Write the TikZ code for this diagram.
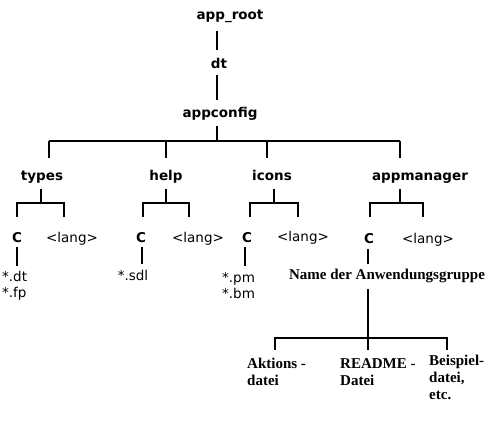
\documentclass[tikz,border=0pt]{standalone}
\usepackage{fontspec}
\setsansfont{DejaVu Sans}
\newfontfamily\dtserif{Liberation Serif}
\begin{document}
\begin{tikzpicture}[x=1pt, y=-1pt,
  dir/.style={font=\sffamily\bfseries\fontsize{13.5}{15}\selectfont, inner sep=1pt},
  sub/.style={font=\sffamily\fontsize{13.5}{16}\selectfont, inner sep=1pt},
  txt/.style={font=\dtserif\bfseries\fontsize{15}{17}\selectfont, inner sep=0pt, align=left, anchor=north west},
  tree/.style={line width=1.6pt},
  trunk/.style={line width=2.6pt}]
\useasboundingbox (0,0) rectangle (502,424);

% obere kette
\node[dir] (root) at (230,16) {app\_root};
\node[dir] (dt)   at (219,63) {dt};
\node[dir] (cfg)  at (220,114) {appconfig};
\coordinate (k0) at (217,141);
\draw[tree] (root.south -| 217,0) ++(0,7) -- (217,50) coordinate (r1);
\draw[tree] (dt.south -| 217,0) ++(0,6) coordinate (d1) -- (217,100);
\draw[tree] (cfg.south -| 217,0) ++(0,4) -- (k0);

% vier ordner
\node[dir, anchor=base] (types) at (42,180)  {types};
\node[dir, anchor=base] (help)  at (166,180) {help};
\node[dir, anchor=base] (icons) at (272,180) {icons};
\node[dir, anchor=base] (mgr)   at (420,180) {appmanager};
\draw[tree] (49,141) coordinate (b0l) -- (400,141) coordinate (b0r);
\foreach \x in {49,166,267,400}
  \draw[tree] (\x,141) -- (\x,158);

% gabeln unter den ordnern
\foreach \p/\k/\l/\r in {types/41/17/64, help/166/143/189, icons/274/250/298, mgr/400/370/423} {
  \draw[tree] (\k,189) -- (\k,203) coordinate (\p-k);
  \draw[tree] (\l,217) -- (\l,203) -- (\r,203) -- (\r,217);
}

% C und <lang>
\node[dir, anchor=base] (tc) at (17,242)  {C};
\node[sub, anchor=base] (tl) at (72,242)  {<lang>};
\node[dir, anchor=base] (hc) at (141,242) {C};
\node[sub, anchor=base] (hl) at (198,242) {<lang>};
\node[dir, anchor=base] (ic) at (247,242) {C};
\node[sub, anchor=base] (il) at (303,241) {<lang>};
\node[dir, anchor=base] (mc) at (369,243) {C};
\node[sub, anchor=base] (ml) at (428,243) {<lang>};

% dateien
\node[sub, align=left, anchor=north west] (tf) at (1,270) {*.dt\\*.fp};
\node[sub] (hf) at (133,275) {*.sdl};
\node[sub, align=left, anchor=north west] (if) at (221,271) {*.pm\\*.bm};
\draw[tree] (tc.south -| 17,0) ++(0,4) -- (17,266);
\draw[tree] (hc.south -| 142,0) ++(0,4) -- (142,264);
\draw[tree] (ic.south -| 245,0) ++(0,4) -- (245,266);

% anwendungsgruppe
\node[txt, anchor=center] (grp) at (387,276) {Name der Anwendungsgruppe};
\draw[tree] (mc.south -| 368,0) ++(0,5) -- (368,264);
\draw[trunk] (grp.south -| 368,0) ++(0,6) -- (368,338) coordinate (k5);
\draw[tree] (275,350) -- (275,338) -- (447,338) -- (447,350);
\draw[tree] (k5) -- (368,350);

% unterste ebene
\node[txt] (akt) at (247,358) {Aktions -\\datei};
\node[txt] (rdm) at (340,358) {README -\\Datei};
\node[txt] (bsp) at (429,355) {Beispiel-\\datei,\\etc.};
\end{tikzpicture}
\end{document}
